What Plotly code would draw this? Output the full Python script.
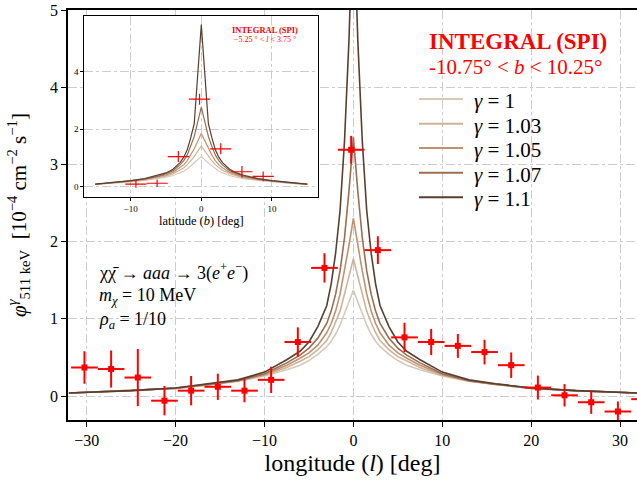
import plotly.graph_objects as go

# ---------------- data ----------------
gammas = ["1", "1.03", "1.05", "1.07", "1.1"]
colors = ["#d8c9b6", "#cdb399", "#bf9270", "#9b6d51", "#5a3e2f"]

# main panel: model curves (half profile in longitude, symmetric)
l_half = [0, 0.5, 1, 1.5, 2, 2.5, 3, 4, 5, 6, 7.5, 10, 13, 16, 20, 25, 32]
main_g100 = [1.37, 1.22, 1.07, 0.92, 0.80, 0.71, 0.64, 0.54, 0.46, 0.40, 0.34, 0.26, 0.19, 0.15, 0.10, 0.07, 0.04]
main_g103 = [1.78, 1.55, 1.32, 1.10, 0.95, 0.82, 0.72, 0.60, 0.51, 0.45, 0.37, 0.27, 0.195, 0.15, 0.10, 0.07, 0.04]
main_g105 = [2.30, 1.95, 1.62, 1.32, 1.10, 0.94, 0.82, 0.66, 0.56, 0.49, 0.40, 0.28, 0.20, 0.15, 0.10, 0.07, 0.04]
main_g107 = [3.35, 2.65, 2.05, 1.62, 1.32, 1.10, 0.94, 0.75, 0.62, 0.53, 0.43, 0.29, 0.20, 0.155, 0.105, 0.07, 0.04]
main_g110 = [6.40, 4.60, 3.30, 2.40, 1.85, 1.45, 1.17, 0.90, 0.70, 0.58, 0.47, 0.31, 0.21, 0.16, 0.105, 0.07, 0.04]

# main panel: INTEGRAL/SPI data
spi_l = [-30.25, -27.25, -24.25, -21.25, -18.25, -15.25, -12.25, -9.25, -6.25, -3.25, -0.25,
         2.75, 5.75, 8.75, 11.75, 14.75, 17.75, 20.75, 23.75, 26.75, 29.75, 32.75]
spi_flux = [0.37, 0.35, 0.24, -0.06, 0.07, 0.12, 0.07, 0.21, 0.70, 1.66, 3.19,
            1.89, 0.76, 0.70, 0.65, 0.57, 0.40, 0.11, 0.01, -0.08, -0.20, -0.04]
spi_err = [0.21, 0.24, 0.37, 0.19, 0.19, 0.17, 0.15, 0.17, 0.19, 0.19, 0.18,
           0.18, 0.19, 0.17, 0.155, 0.16, 0.165, 0.155, 0.145, 0.15, 0.13, 0.13]
spi_dl = 1.5

# inset: model curves (half profile in latitude, symmetric)
b_half = [0, 1, 1.5, 2, 2.5, 3, 4, 5, 6, 8, 10, 12.5, 15]
ins_g100 = [1.05, 0.82, 0.72, 0.62, 0.54, 0.48, 0.39, 0.33, 0.28, 0.22, 0.17, 0.12, 0.08]
ins_g103 = [1.42, 1.05, 0.90, 0.76, 0.65, 0.57, 0.45, 0.37, 0.31, 0.24, 0.18, 0.125, 0.08]
ins_g105 = [1.85, 1.32, 1.10, 0.90, 0.76, 0.66, 0.50, 0.41, 0.34, 0.25, 0.19, 0.13, 0.085]
ins_g107 = [2.77, 1.75, 1.40, 1.10, 0.90, 0.76, 0.56, 0.45, 0.37, 0.27, 0.20, 0.13, 0.085]
ins_g110 = [5.65, 2.20, 1.70, 1.28, 1.02, 0.84, 0.61, 0.48, 0.40, 0.28, 0.21, 0.14, 0.09]

# inset: SPI data
ins_b = [-9.25, -6.25, -3.25, -0.25, 2.75, 5.75, 8.75]
ins_flux = [0.09, 0.12, 1.05, 3.05, 1.32, 0.52, 0.36]
ins_err = [0.13, 0.13, 0.19, 0.19, 0.19, 0.20, 0.17]
ins_db = 1.5

main_tick_x = [-30, -20, -10, 0, 10, 20, 30]
main_tick_y = [0, 1, 2, 3, 4, 5]
ins_tick_x = [-10, 0, 10]
ins_tick_y = [0, 2, 4]


def mirror(xh, yh):
    xs = [-v for v in reversed(xh[1:])] + list(xh)
    ys = list(reversed(yh[1:])) + list(yh)
    return xs, ys


FONT = "Liberation Serif"
RED = "#ff0000"

# plot-area geometry (pixels in the 637x480 page)
PL, PR, PT, PB = 68, 637, 10, 420


def px(x):
    return (x - PL) / (PR - PL)


def py(y):
    return (PB - y) / (PB - PT)


fig = go.Figure()

main_curves = [main_g100, main_g103, main_g105, main_g107, main_g110]
for g, c, yv in zip(gammas, colors, main_curves):
    xs, ys = mirror(l_half, yv)
    fig.add_trace(go.Scatter(x=xs, y=ys, mode="lines", line=dict(color=c, width=1.6),
                             name=f"γ = {g}", showlegend=False))

fig.add_trace(go.Scatter(
    x=spi_l, y=spi_flux, mode="markers",
    marker=dict(color=RED, size=6, symbol="square"),
    error_x=dict(type="constant", value=spi_dl, color=RED, thickness=2, width=0),
    error_y=dict(type="data", array=spi_err, color=RED, thickness=2, width=0),
    showlegend=False))

ins_curves = [ins_g100, ins_g103, ins_g105, ins_g107, ins_g110]
for g, c, yv in zip(gammas, colors, ins_curves):
    xs, ys = mirror(b_half, yv)
    fig.add_trace(go.Scatter(x=xs, y=ys, mode="lines", line=dict(color=c, width=1.2),
                             xaxis="x2", yaxis="y2", showlegend=False))

fig.add_trace(go.Scatter(
    x=ins_b, y=ins_flux, mode="markers", marker=dict(color=RED, size=1, opacity=0),
    error_x=dict(type="constant", value=ins_db, color=RED, thickness=1.2, width=0),
    error_y=dict(type="data", array=ins_err, color=RED, thickness=1.2, width=0),
    xaxis="x2", yaxis="y2", showlegend=False))

grid = dict(showgrid=True, gridcolor="#cccccc", gridwidth=1, griddash="dashdot", zeroline=False,
            showline=True, linecolor="black", mirror=True, ticks="outside", tickcolor="black",
            automargin=False)

# legend drawn as line samples + labels
legend_rows = [99, 123.7, 147.9, 172.7, 197.3]
shapes = []
annotations = []
for g, c, yrow in zip(gammas, colors, legend_rows):
    shapes.append(dict(type="line", xref="paper", yref="paper", x0=px(419), x1=px(463),
                       y0=py(yrow), y1=py(yrow), line=dict(color=c, width=2)))
    annotations.append(dict(text=f"<i>γ</i> = {g}", x=px(472), y=py(yrow + 2), xref="paper", yref="paper",
                            xanchor="left", yanchor="middle", showarrow=False, font=dict(size=21)))

annotations += [
    dict(text="<b>INTEGRAL (SPI)</b>", x=px(518), y=py(42), xref="paper", yref="paper",
         xanchor="center", yanchor="middle", showarrow=False, font=dict(size=23, color=RED)),
    dict(text="-10.75° &lt; <i>b</i> &lt; 10.25°", x=px(515), y=py(67), xref="paper", yref="paper",
         xanchor="center", yanchor="middle", showarrow=False, font=dict(size=21, color=RED)),
    dict(text="χχ̄ → <i>aaa</i> → 3(<i>e</i><sup>+</sup><i>e</i><sup>−</sup>)",
         x=px(97), y=py(286), xref="paper", yref="paper", xanchor="left", yanchor="bottom",
         showarrow=False, font=dict(size=18)),
    dict(text="<i>m</i><sub><i>χ</i></sub> = 10 MeV", x=px(97), y=py(310),
         xref="paper", yref="paper", xanchor="left", yanchor="bottom", showarrow=False, font=dict(size=18)),
    dict(text="<i>ρ</i><sub><i>a</i></sub> = 1/10", x=px(97), y=py(334),
         xref="paper", yref="paper", xanchor="left", yanchor="bottom", showarrow=False, font=dict(size=18)),
    dict(text="<b>INTEGRAL (SPI)</b>", x=px(265), y=py(30), xref="paper", yref="paper",
         xanchor="center", yanchor="middle", showarrow=False, font=dict(size=8.5, color=RED)),
    dict(text="−5.25 ° &lt; <i>l</i> &lt; 3.75 °", x=px(265), y=py(40), xref="paper", yref="paper",
         xanchor="center", yanchor="middle", showarrow=False, font=dict(size=8, color=RED)),
]

fig.update_layout(
    width=637, height=480,
    margin=dict(l=PL, r=637 - PR, t=PT, b=480 - PB),
    paper_bgcolor="white", plot_bgcolor="white",
    font=dict(family=FONT, color="black"),
    showlegend=False,
    xaxis=dict(domain=[0, 1], range=[-32.1, 31.9], tickvals=main_tick_x, linewidth=1.5,
               ticklen=5, tickfont=dict(size=16),
               title=dict(text="longitude (<i>l</i>) [deg]", font=dict(size=24), standoff=6), **grid),
    yaxis=dict(domain=[0, 1], range=[-0.31, 5.0], tickvals=main_tick_y, linewidth=1.5,
               ticklen=5, tickfont=dict(size=16),
               title=dict(text="<i>φ</i><sup><i>γ</i></sup><sub>511 keV</sub>  [10<sup>−4</sup> cm<sup>−2</sup> s<sup>−1</sup>]",
                          font=dict(size=21), standoff=18), **grid),
    xaxis2=dict(domain=[px(84.3), px(318.3)], anchor="y2", range=[-16.55, 16.55], tickvals=ins_tick_x,
                linewidth=1.2, ticklen=3, tickfont=dict(size=9),
                title=dict(text="latitude (<i>b</i>) [deg]", font=dict(size=12.5), standoff=3), **grid),
    yaxis2=dict(domain=[py(197.3), py(16)], anchor="x2", range=[-0.37, 5.95], tickvals=ins_tick_y,
                linewidth=1.2, ticklen=3, tickfont=dict(size=9), **grid),
    shapes=shapes,
    annotations=annotations,
)

fig.write_html("out.html", config={"displayModeBar": False},
               post_script="document.body.style.margin='0px';")
